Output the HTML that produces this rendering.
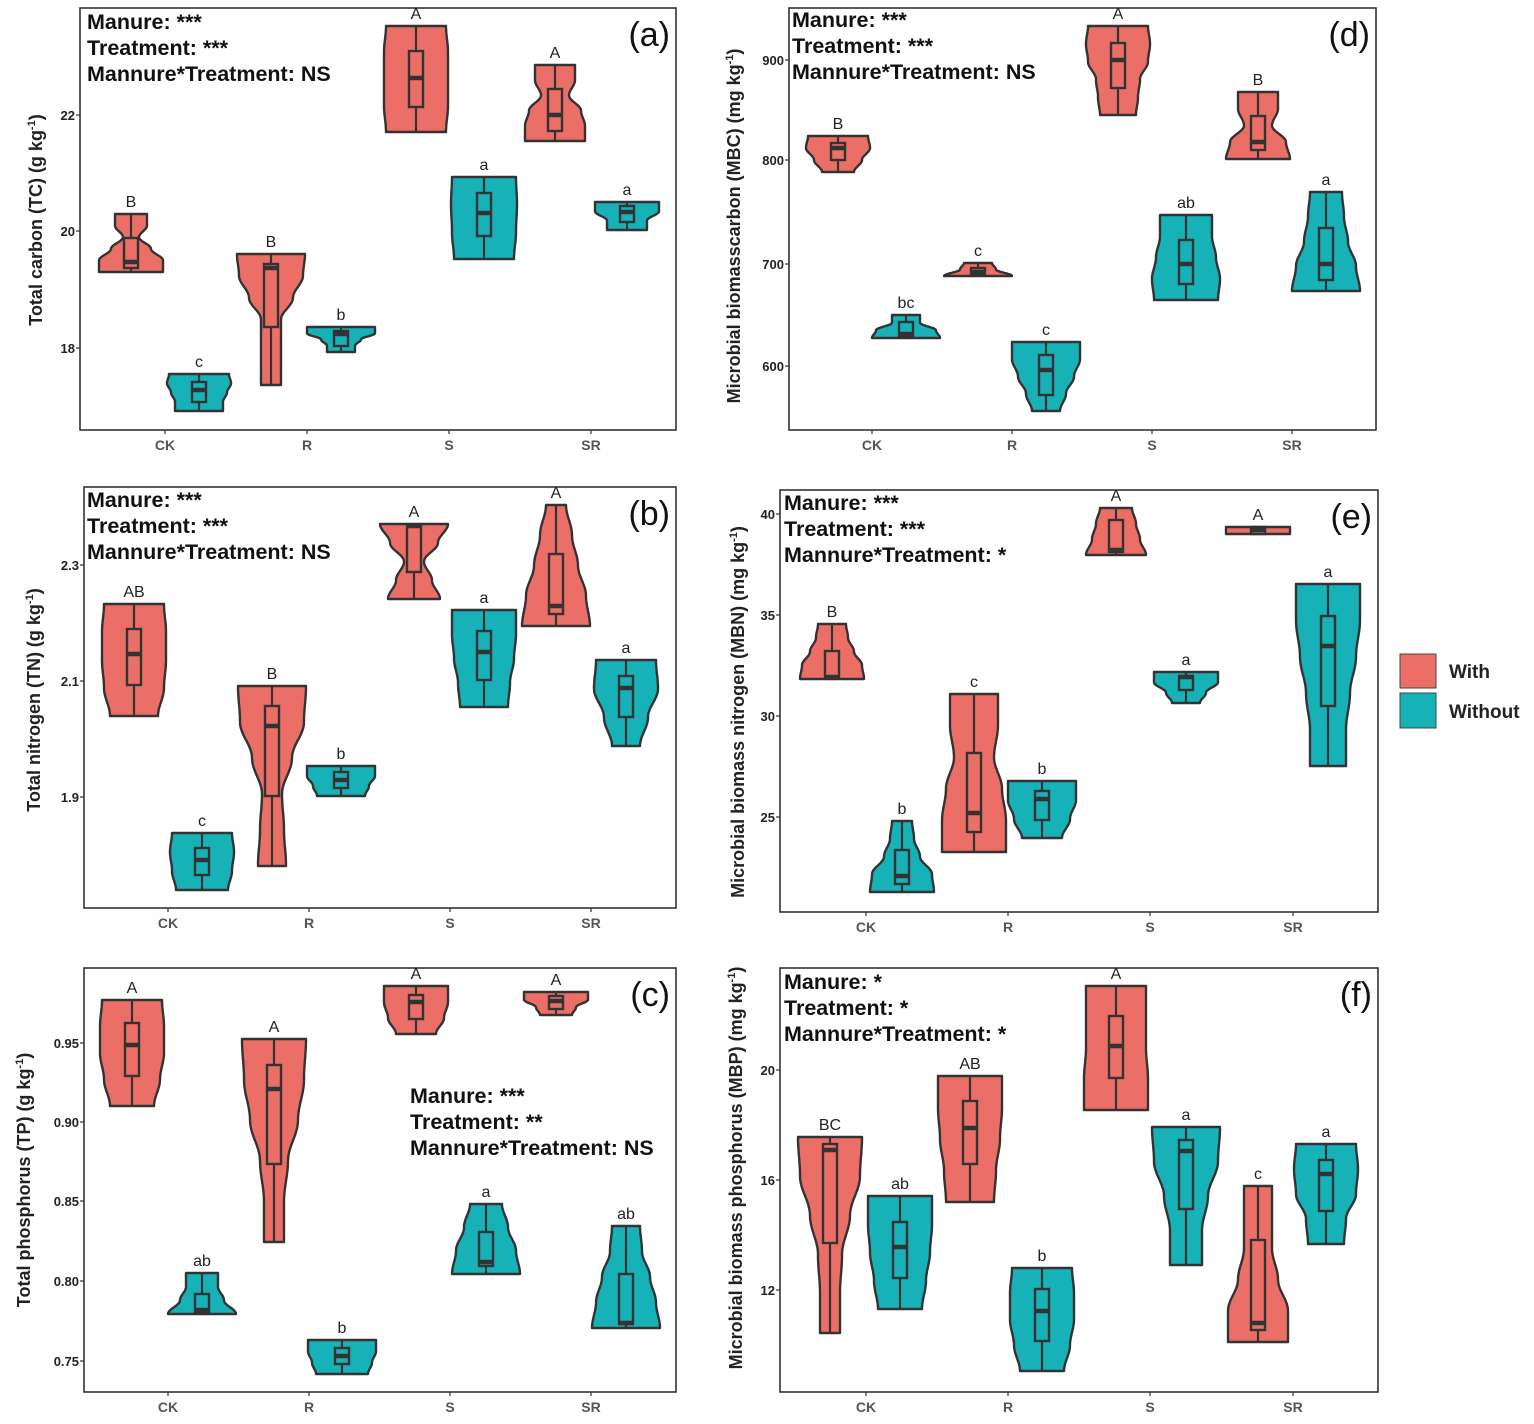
<!DOCTYPE html>
<html><head><meta charset="utf-8">
<style>
html,body{margin:0;padding:0;background:#fff;}
svg{display:block;}
text{font-family:"Liberation Sans",Arial,sans-serif;}
</style></head>
<body>
<svg id="s" width="1534" height="1424" viewBox="0 0 1534 1424" xmlns="http://www.w3.org/2000/svg">
<rect width="1534" height="1424" fill="#fff"/>
<rect x="1400" y="654" width="36" height="34" fill="#EC6F67" stroke="#444" stroke-width="1"/>
<rect x="1400" y="693" width="36" height="35" fill="#17B2B7" stroke="#444" stroke-width="1"/>
<text x="1449" y="678" font-size="19" font-weight="bold" fill="#222">With</text>
<text x="1449" y="718" font-size="19" font-weight="bold" fill="#222">Without</text>
</svg>
<script>
const NS="http://www.w3.org/2000/svg";
const svg=document.getElementById('s');
function el(t,a,txt){const e=document.createElementNS(NS,t);for(const k in a)e.setAttribute(k,a[k]);if(txt!==undefined)e.textContent=txt;svg.appendChild(e);return e;}
const W="#EC6F67",O="#17B2B7";
function violin(cx,top,bot,prof,q3,q1,med,col,lab){
  const n=60,pts=[];
  for(let i=0;i<=n;i++){const t=i/n,y=top+(bot-top)*t;const f=t*(prof.length-1);let k=Math.floor(f);if(k>=prof.length-1)k=prof.length-2;const u=f-k;const s=(1-Math.cos(Math.PI*u))/2;const w=prof[k]*(1-s)+prof[k+1]*s;pts.push([w,y]);}
  let d="M"+(cx-pts[0][0])+","+pts[0][1];
  for(const p of pts)d+=" L"+(cx+p[0]).toFixed(1)+","+p[1].toFixed(1);
  for(let i=pts.length-1;i>=0;i--)d+=" L"+(cx-pts[i][0]).toFixed(1)+","+pts[i][1].toFixed(1);
  d+="Z";
  el('path',{d:d,fill:col,stroke:"#333","stroke-width":2.4,"stroke-linejoin":"round"});
  el('line',{x1:cx,y1:top,x2:cx,y2:bot,stroke:"#333","stroke-width":2.2});
  el('rect',{x:cx-7,y:q3,width:14,height:Math.max(q1-q3,2),fill:col,stroke:"#333","stroke-width":2.4});
  el('line',{x1:cx-7,y1:med,x2:cx+7,y2:med,stroke:"#333","stroke-width":4.5});
  el('text',{x:cx,y:top-7,"font-size":16,"text-anchor":"middle",fill:"#222"},lab);
}
function panel(p){
  el('rect',{x:p.x0,y:p.y0,width:p.x1-p.x0,height:p.y1-p.y0,fill:"none",stroke:"#333","stroke-width":1.6});
  p.ticks.forEach(t=>{el('line',{x1:p.x0-4,y1:t[1],x2:p.x0,y2:t[1],stroke:"#333","stroke-width":1.2});
    el('text',{x:p.x0-5,y:t[1]+5,"font-size":13,"font-weight":"bold","text-anchor":"end",fill:"#222"},t[0]);});
  ["CK","R","S","SR"].forEach((c,i)=>{const x=p.cats[i];el('line',{x1:x,y1:p.y1,x2:x,y2:p.y1+4,stroke:"#333","stroke-width":1.2});
    el('text',{x:x,y:p.y1+20,"font-size":14,"font-weight":"bold","text-anchor":"middle",fill:"#555"},c);});
  const tt=el('text',{x:0,y:0,"font-size":18,"font-weight":"bold","text-anchor":"middle",fill:"#222",transform:`translate(${p.yt[0]},${p.yt[1]}) rotate(-90)`},"");
  tt.appendChild(document.createTextNode(p.title));const ts=document.createElementNS(NS,'tspan');ts.setAttribute('font-size','11');ts.setAttribute('dy','-7');ts.textContent="-1";tt.appendChild(ts);const ts2=document.createElementNS(NS,'tspan');ts2.setAttribute('dy','7');ts2.textContent=")";tt.appendChild(ts2);
  p.ann.forEach((a,i)=>el('text',{x:p.ax,y:p.ay+i*26,"font-size":21.5,"font-weight":"bold",fill:"#111"},a));
  el('text',{x:p.x1-6,y:p.y0+38,"font-size":34,"text-anchor":"end",fill:"#111"},p.letter);
  p.v.forEach(v=>violin(...v));
}
panel({x0:80,x1:676,y0:8,y1:430,ticks:[["22",115],["20",231],["18",348]],cats:[165,307,449,591],
 yt:[42,220],title:"Total carbon (TC) (g kg",ax:87,ay:29,letter:"(a)",
 ann:["Manure: ***","Treatment: ***","Mannure*Treatment: NS"],
 v:[[131,214,272,[16,16,8,20,32,32],238,268,262,W,"B"],
 [199,374,411,[30,32,28,24,24],382,402,390,O,"c"],
 [271,254,385,[34,32,22,10,10,10,10],264,327,268,W,"B"],
 [341,327,352,[34,34,20,14,14],331,346,334,O,"b"],
 [416,26,132,[30,32,32,32,30],51,107,78,W,"A"],
 [484,177,259,[32,33,32,30],193,236,213,O,"a"],
 [555,65,141,[20,20,14,26,30,30],89,131,115,W,"A"],
 [627,202,230,[32,32,20,20],206,222,212,O,"a"]]});
panel({x0:789,x1:1376,y0:8,y1:430,ticks:[["900",60],["800",160],["700",264],["600",366]],cats:[872,1012,1152,1292],
 yt:[740,226],title:"Microbial biomasscarbon (MBC) (mg kg",ax:792,ay:27,letter:"(d)",
 ann:["Manure: ***","Treatment: ***","Mannure*Treatment: NS"],
 v:[[838,136,172,[30,32,24,16],143,160,148,W,"B"],
 [906,315,338,[14,14,30,34],322,336,334,O,"bc"],
 [978,263,276,[14,18,34],268,274,272,W,"c"],
 [1046,342,411,[34,34,28,20,14],355,395,370,O,"c"],
 [1118,26,115,[30,32,30,22,20,18],43,88,60,W,"A"],
 [1186,215,300,[26,26,30,34,32],240,284,264,O,"ab"],
 [1258,92,159,[20,20,14,28,32],116,150,142,W,"B"],
 [1326,192,291,[16,18,22,30,34],228,280,264,O,"a"]]});
panel({x0:84,x1:676,y0:487,y1:908,ticks:[["2.3",565],["2.1",681],["1.9",797]],cats:[168,309,450,591],
 yt:[40,700],title:"Total nitrogen (TN) (g kg",ax:87,ay:507,letter:"(b)",
 ann:["Manure: ***","Treatment: ***","Mannure*Treatment: NS"],
 v:[[134,604,716,[30,32,32,30,24],629,685,654,W,"AB"],
 [202,833,890,[30,32,30,26],848,875,860,O,"c"],
 [272,686,866,[34,32,20,10,12,14],706,796,726,W,"B"],
 [341,766,796,[34,34,28,24],772,788,780,O,"b"],
 [414,524,599,[34,24,10,18,26],526,572,526,W,"A"],
 [484,610,707,[32,32,30,26,24],631,680,652,O,"a"],
 [556,505,626,[10,16,22,30,34],554,614,606,W,"A"],
 [626,660,746,[30,32,22,14],676,717,688,O,"a"]]});
panel({x0:780,x1:1378,y0:490,y1:912,ticks:[["40",514],["35",615],["30",716],["25",817]],cats:[866,1008,1150,1293],
 yt:[744,712],title:"Microbial biomass nitrogen (MBN) (mg kg",ax:784,ay:510,letter:"(e)",
 ann:["Manure: ***","Treatment: ***","Mannure*Treatment: *"],
 v:[[832,624,679,[14,16,22,30,32],651,677,677,W,"B"],
 [902,821,892,[10,12,18,30,32],850,884,876,O,"b"],
 [974,694,852,[24,24,20,28,32,32],753,832,813,W,"c"],
 [1042,781,838,[34,34,28,20],791,820,799,O,"b"],
 [1116,508,555,[16,20,24,30],520,552,550,W,"A"],
 [1186,672,703,[32,32,20,14],676,690,677,O,"a"],
 [1258,527,534,[32,32],527,534,530,W,"A"],
 [1328,584,766,[32,32,28,22,18,18],616,706,646,O,"a"]]});
panel({x0:84,x1:676,y0:968,y1:1392,ticks:[["0.95",1043],["0.90",1122],["0.85",1201],["0.80",1281],["0.75",1361]],cats:[168,309,450,591],
 yt:[30,1180],title:"Total phosphorus (TP) (g kg",ax:410,ay:1103,letter:"(c)",
 ann:["Manure: ***","Treatment: **","Mannure*Treatment: NS"],
 v:[[132,1000,1106,[30,32,32,28,22],1023,1076,1045,W,"A"],
 [202,1273,1314,[16,16,22,34],1294,1312,1310,O,"ab"],
 [274,1039,1242,[32,30,24,14,10,10],1065,1164,1089,W,"A"],
 [342,1340,1374,[34,34,30,26],1348,1364,1356,O,"b"],
 [416,986,1034,[32,32,28,20],995,1019,1002,W,"A"],
 [486,1204,1274,[16,22,30,34],1232,1266,1262,O,"a"],
 [556,992,1015,[32,32,20,16],996,1009,1001,W,"A"],
 [626,1226,1328,[14,16,24,30,34],1274,1324,1323,O,"ab"]]});
panel({x0:780,x1:1378,y0:968,y1:1392,ticks:[["20",1070],["16",1180],["12",1290]],cats:[866,1008,1150,1293],
 yt:[742,1168],title:"Microbial biomass phosphorus (MBP) (mg kg",ax:784,ay:989,letter:"(f)",
 ann:["Manure: *","Treatment: *","Mannure*Treatment: *"],
 v:[[830,1137,1333,[32,30,20,12,10,10],1144,1243,1150,W,"BC"],
 [900,1196,1309,[32,32,30,26,22],1222,1278,1247,O,"ab"],
 [970,1076,1202,[32,32,30,26,24],1101,1164,1128,W,"AB"],
 [1042,1268,1371,[30,32,32,28,22],1289,1341,1311,O,"b"],
 [1116,986,1110,[30,30,30,32,32],1016,1078,1046,W,"A"],
 [1186,1127,1265,[34,32,22,16,16],1140,1209,1151,O,"a"],
 [1258,1186,1342,[14,14,14,20,30,30],1240,1330,1323,W,"c"],
 [1326,1144,1244,[30,32,30,20,18],1160,1211,1174,O,"a"]]});
</script>
</body></html>
